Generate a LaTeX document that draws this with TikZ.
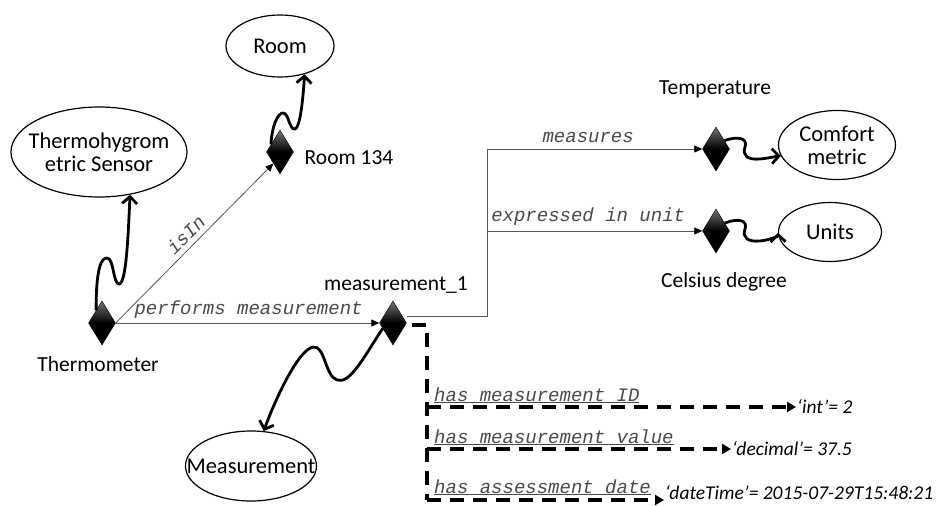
\documentclass[tikz,border=0pt]{standalone}
\usepackage{fontspec}
\setmainfont{Carlito}
\newfontfamily\monofont{Liberation Mono}
\usetikzlibrary{shapes.geometric,arrows.meta,calc}
\definecolor{linkgray}{HTML}{555555}
\definecolor{monogray}{HTML}{4A4A4A}
\tikzset{
  inst/.style={diamond,inner sep=0pt,minimum width=27pt,minimum height=44pt,
    top color=black!55,bottom color=black,middle color=black,draw=black,line width=0.4pt},
  cls/.style={ellipse,draw=black,line width=1.2pt,inner sep=0pt,
    label={[inner sep=0pt,align=center,font=\fontsize{22.5}{23}\selectfont]center:#1}},
  lbl/.style={inner sep=0pt,font=\fontsize{21.5}{24}\selectfont},
  prop/.style={inner sep=0pt,text=monogray,font=\monofont\itshape\fontsize{19}{20}\selectfont},
  val/.style={inner sep=1pt,anchor=west,font=\itshape\fontsize{19.5}{20}\selectfont},
  objlink/.style={draw=linkgray,line width=0.8pt,-{Triangle[length=8pt,width=7pt,color=black]}},
  plain/.style={draw=linkgray,line width=0.8pt},
  typelink/.style={line width=2.8pt,-{Straight Barb[length=7pt,width=15pt]}},
  datalink/.style={line width=3.4pt,dash pattern=on 14pt off 9pt},
  datatip/.style={datalink,-{Triangle[length=9pt,width=10pt]}},
}
\begin{document}
\begin{tikzpicture}[x=1pt,y=-1pt]
\useasboundingbox[fill=white] (0,0) rectangle (938,506);

% classes
\node[cls={Room},minimum width=108pt,minimum height=62pt] (room) at (280,46) {};
\node[cls={Thermohygrom\\etric Sensor},minimum width=176pt,minimum height=90pt] (sensor) at (99,152) {};
\node[cls={Comfort\\metric},minimum width=117pt,minimum height=69pt] (comfort) at (837,145) {};
\node[cls={Units},minimum width=103pt,minimum height=59pt] (units) at (830,232) {};
\node[cls={Measurement},minimum width=131pt,minimum height=70pt] (measclass) at (251,466) {};

% individuals
\node[inst] (therm) at (102,323) {};
\node[inst] (meas1) at (393,323) {};
\node[inst] (r134) at (280,152) {};
\node[inst] (temp) at (716,149) {};
\node[inst] (cels) at (716,231) {};

\node[lbl] (thermlbl) at (98,364) {Thermometer};
\node[lbl] (meas1lbl) at (396,285) {measurement\_1};
\node[lbl] (r134lbl) at (349,158) {Room 134};
\node[lbl] (templbl) at (715,89) {Temperature};
\node[lbl] (celslbl) at (724,282) {Celsius degree};

% literal values
\node[val] (intv) at (796,407) {‘int’= 2};
\node[val] (decv) at (731,449) {‘decimal’= 37.5};
\node[val] (datev) at (664,493) {‘dateTime’= 2015-07-29T15:48:21};

% object properties
\draw[objlink] (therm.east) -- node[prop,above=4pt,pos=0.07,anchor=south west] {performs measurement} (meas1.west);
\draw[objlink] (therm.east) -- node[prop,sloped,above=5pt,pos=0.5] {isIn} (r134.240);

\coordinate (busB) at (487,316);
\coordinate (busM) at (487,231);
\coordinate (busT) at (487,149);
\draw[plain] ($(meas1.east)+(0,-7)$) -- (busB) -- (busT);
\draw[objlink] (busT) -- node[prop,above=6pt,pos=0.47] {measures} (temp.west);
\draw[objlink] (busM) -- node[prop,above=5pt,pos=0.47] {expressed in unit} (cels.west);

% class membership
\draw[typelink] (therm.115) .. controls (96,265) and (102,258) .. (107,258)
  .. controls (114,258) and (113,284) .. (119,284)
  .. controls (126,284) and (128,240) .. (sensor.306);
\draw[typelink] (r134.140) .. controls (272,125) and (278,113) .. (283,113)
  .. controls (289,113) and (289,130) .. (295,129)
  .. controls (300,128) and (303,100) .. (room.311);
\draw[typelink] (temp.45) .. controls (738,136) and (748,138) .. (745,147)
  .. controls (742,156) and (748,160) .. (760,159)
  .. controls (770,158) and (778,156) .. (comfort.191);
\draw[typelink] (cels.42) .. controls (738,218) and (748,220) .. (745,229)
  .. controls (742,238) and (748,242) .. (760,241)
  .. controls (770,240) and (778,236) .. (units.181);
\draw[typelink] (meas1.208) .. controls (365,355) and (350,385) .. (337,380)
  .. controls (325,376) and (325,345) .. (313,347)
  .. controls (298,350) and (275,400) .. (measclass.70);

% datatype properties
\coordinate (dTop) at (427,325);
\coordinate (dID) at (427,407);
\coordinate (dVal) at (427,449);
\coordinate (dDate) at (427,500);
\draw[datalink] ($(meas1.east)+(5,2)$) -- (dTop) -- (dDate);
\draw[datatip] (dID) -- (intv.west);
\draw[datatip] (dVal) -- (decv.west);
\draw[datatip] (dDate) -- (dDate -| datev.west);
\node[prop,anchor=base west] (pid) at (434,401) {\underline{has measurement ID}};
\node[prop,anchor=base west] (pval) at (434,443) {\underline{has measurement value}};
\node[prop,anchor=base west] (pdate) at (434,493) {\underline{has assessment date}};
\end{tikzpicture}
\end{document}
